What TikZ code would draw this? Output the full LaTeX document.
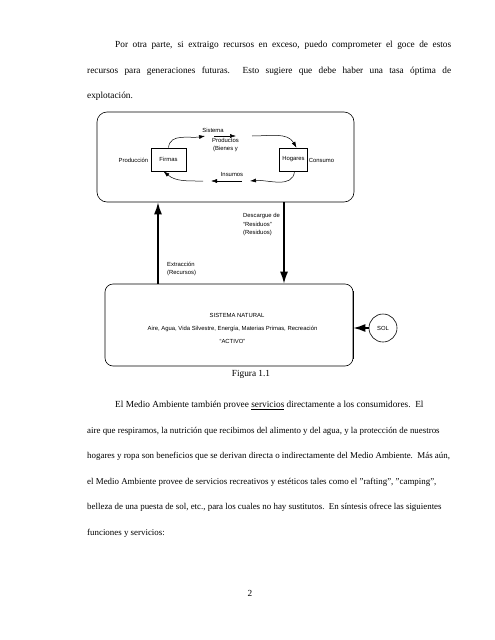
\documentclass[tikz,border=0pt]{standalone}
\usepackage{fontspec}
\setmainfont{Liberation Serif}
\newfontfamily\diagfont{Liberation Sans}
\usetikzlibrary{arrows.meta}
\usetikzlibrary{positioning}

\tikzset{
  txt/.style={anchor=base west, inner sep=0pt, font=\fontsize{9.3}{11}\selectfont},
  txtb/.style={txt, font=\fontsize{8.9}{10}\selectfont},
  lbl/.style={inner sep=0pt, font=\diagfont\fontsize{5.9}{8.6}\selectfont},
  caja/.style={draw, line width=0.6pt, minimum height=23pt, inner sep=0pt, lbl},
  marco/.style={draw, line width=0.6pt, inner sep=0pt},
  flujo/.style={-{Latex[length=6pt,width=4pt]}, line width=0.5pt},
  grueso/.style={-{Latex[length=12pt,width=8pt]}, line width=1.6pt},
}

\begin{document}
\begin{tikzpicture}[x=1pt, y=-1pt]
    \useasboundingbox (0, 0) rectangle (495, 640);

    \node [txt] (p1a) at (115, 47.5) {\makebox[336pt][s]{Por otra parte, si extraigo recursos en exceso, puedo comprometer el goce de estos}};
    \node [txt] (p1b) at (87, 73.5) {\makebox[364pt][s]{recursos para generaciones futuras.\ \ Esto sugiere que debe haber una tasa óptima de}};
    \node [txt] (p1c) at (87, 98.5) {explotación.};

    \node [marco, rounded corners=10pt, minimum width=257pt, minimum height=90pt] (economia) at (225.5, 157) {};
    \node [caja, minimum width=35pt] (firmas) at (168.5, 159.5) {Firmas};
    \node [caja, minimum width=28pt] (hogares) at (293.5, 159.5) {Hogares};
    \node [lbl] (produccion) at (133.5, 160) {Producción};
    \node [lbl] (consumo) at (321.5, 160) {Consumo};
    \node [lbl] (sistema) at (213, 130.5) {Sistema};
    \node [lbl, align=center, font=\diagfont\fontsize{5.9}{7.6}\selectfont] (productos) at (225.5, 145) {Productos\\(Bienes y};
    \node [lbl] (insumos) at (232, 174.5) {Insumos};

    \coordinate (s1) at (205, 136);
    \coordinate (s2) at (214, 136);
    \coordinate (s3) at (236, 136);
    \coordinate (s4) at (252, 136);
    \coordinate (i1) at (250, 181);
    \coordinate (i2) at (242, 181);
    \coordinate (i3) at (211, 181);
    \coordinate (i4) at (203, 181);

    \draw [flujo] (firmas.north) to [out=85, in=190] (s1);
    \draw [flujo] (s2) -- (s3);
    \draw [flujo] (s4) to [out=0, in=120] ([xshift=3pt]hogares.north);
    \draw [flujo] ([xshift=1pt]hogares.south) to [out=-95, in=5] (i1);
    \draw [flujo] (i2) -- (i3);
    \draw [flujo] (i4) to [out=180, in=-40] ([xshift=-5pt]firmas.south);

    \node [marco, rounded corners=8pt, minimum width=248pt, minimum height=82pt] (natural) at (229, 325) {};
    \draw [line width=1.3pt] ([yshift=-7pt]natural.north east) -- ([yshift=7pt]natural.south east);
    \node [lbl] (sisnat) at (237, 315.5) {SISTEMA NATURAL};
    \node [lbl] (recursos) at (232.5, 328.5) {Aire, Agua, Vida Silvestre, Energía, Materias Primas, Recreación};
    \node [lbl] (activo) at (232.5, 341.5) {“ACTIVO”};
    \node [draw, circle, line width=0.6pt, minimum size=28pt, lbl] (sol) at (383, 328) {SOL};

    \coordinate (xext) at (158, 0);
    \coordinate (xdes) at (284, 0);
    \draw [grueso] (natural.north -| xext) -- (economia.south -| xext);
    \draw [grueso] (economia.south -| xdes) -- (natural.north -| xdes);
    \draw [grueso] (sol.west) -- (sol.west -| natural.east);

    \node [lbl, align=left, anchor=west] (descargue) at (243, 224.5) {Descargue de\\“Residuos”\\(Residuos)};
    \node [lbl, align=left, anchor=west] (extraccion) at (167, 269) {Extracción\\(Recursos)};

    \node [txt, anchor=base] (figura) at (251, 376.5) {Figura 1.1};

    \node [txt] (p2a) at (115, 407.5) {El Medio Ambiente también provee \underline{servicios} directamente a los consumidores.\ \ El};
    \node [txtb] (p2b) at (87, 433.5) {aire que respiramos, la nutrición que recibimos del alimento y del agua, y la protección de nuestros};
    \node [txtb] (p2c) at (87, 458.5) {hogares y ropa son beneficios que se derivan directa o indirectamente del Medio Ambiente.\ \ Más aún,};
    \node [txtb] (p2d) at (87, 484.5) {el Medio Ambiente provee de servicios recreativos y estéticos tales como el "rafting", "camping",};
    \node [txtb] (p2e) at (87, 509.5) {belleza de una puesta de sol, etc., para los cuales no hay sustitutos.\ \ En síntesis ofrece las siguientes};
    \node [txtb] (p2f) at (87, 535.5) {funciones y servicios:};

    \node [txt, anchor=base] (pagina) at (250, 596) {2};
\end{tikzpicture}
\end{document}
